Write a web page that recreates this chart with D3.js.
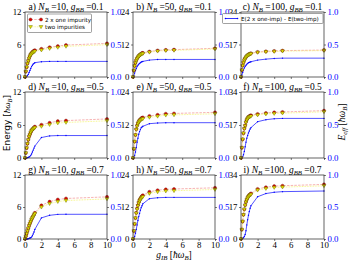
<!DOCTYPE html>
<html><head><meta charset="utf-8">
<script src="https://cdn.jsdelivr.net/npm/d3@7"></script>
<style>body{margin:0;background:#fff}svg{display:block}</style>
</head><body>
<svg id="c" width="352" height="264"></svg>
<script>
// ---------- data ----------
const gIB = [0,0.1,0.2,0.3,0.4,0.5,0.6,0.7,0.8,0.9,1.0,1.1,1.2,2,3,4,5,10];
const panelTags = ["a","b","c","d","e","f","g","h","i"];
const NB = [10,50,100];
const gBB = [0.1,0.5,0.7];
const leftTicks = [[0,6,12],[0,12,24],[0,17,34]];
const rightTicks = [0,0.5,1.0];
const xTicks = [0,2,4,6,8,10];
const legendLabels = ["2 x one impurity","two impurities","E(2 x one-imp) - E(two-imp)"];

// a) NB=10, gBB=0.1
const oneA = [0,1.0,1.8,2.5,3.0,3.5,3.9,4.2,4.4,4.6,4.75,4.85,4.95,5.2,5.5,5.7,5.9,6.2];
const twoA = [0,1.0,1.79,2.48,2.96,3.43,3.8,4.07,4.24,4.42,4.55,4.64,4.73,4.97,5.26,5.46,5.66,5.96];
const effA = [0,0,0.01,0.02,0.04,0.07,0.10,0.13,0.16,0.18,0.20,0.21,0.22,0.235,0.24,0.24,0.24,0.24];
// b) NB=50, gBB=0.1
const oneB = [0,2.4,4.1,5.3,6.2,6.9,7.4,7.8,8.1,8.4,8.6,8.8,8.9,9.4,9.8,10.0,10.1,10.6];
const twoB = [0,2.38,4.04,5.2,6.07,6.74,7.22,7.61,7.89,8.18,8.37,8.57,8.66,9.14,9.53,9.73,9.83,10.33];
const effB = [0,0.02,0.06,0.10,0.13,0.16,0.18,0.195,0.21,0.22,0.23,0.235,0.24,0.26,0.27,0.27,0.27,0.27];
// c) NB=100, gBB=0.1
const oneC = [0,3.6,6.0,7.7,8.9,9.8,10.5,11.0,11.4,11.7,12.0,12.2,12.4,13.1,13.4,13.6,13.8,14.1];
const twoC = [0,3.57,5.93,7.59,8.76,9.64,10.32,10.81,11.19,11.48,11.78,11.97,12.17,12.84,13.13,13.32,13.51,13.81];
const effC = [0,0.03,0.07,0.11,0.14,0.16,0.18,0.195,0.21,0.22,0.225,0.23,0.235,0.26,0.275,0.285,0.29,0.29];
// d) NB=10, gBB=0.5
const oneD = [0,0.9,1.8,2.6,3.3,3.9,4.3,4.7,5.0,5.2,5.4,5.55,5.7,6.05,6.4,6.7,6.8,7.1];
const twoD = [0,0.9,1.8,2.6,3.29,3.89,4.28,4.66,4.94,5.11,5.28,5.4,5.52,5.74,6.07,6.36,6.46,6.76];
const effD = [0,0,0,0.005,0.01,0.015,0.025,0.04,0.06,0.09,0.12,0.15,0.18,0.31,0.335,0.34,0.34,0.34];
// e) NB=50, gBB=0.5
const oneE = [0,3.3,6.0,8.4,10.5,11.8,12.7,13.3,13.8,14.1,14.4,14.6,14.75,15.3,15.7,16.1,16.2,16.6];
const twoE = [0,3.29,5.96,8.31,10.34,11.56,12.4,12.94,13.4,13.67,13.94,14.13,14.27,14.78,15.17,15.57,15.67,16.07];
const effE = [0,0.01,0.04,0.09,0.16,0.24,0.30,0.36,0.40,0.43,0.46,0.47,0.48,0.52,0.53,0.535,0.535,0.535];
// f) NB=100, gBB=0.5
const oneF = [0,5.3,9.6,12.8,15.2,16.8,18.6,19.8,20.6,21.2,21.5,21.8,22.0,22.7,23.2,23.5,23.7,24.4];
const twoF = [0,5.3,9.58,12.75,15.1,16.63,18.36,19.5,20.26,20.82,21.09,21.36,21.54,22.15,22.62,22.91,23.1,23.8];
const effF = [0,0.005,0.02,0.05,0.10,0.17,0.24,0.30,0.34,0.38,0.41,0.44,0.46,0.55,0.58,0.595,0.6,0.6];
// g) NB=10, gBB=0.7
const oneG = [0,0.5,1.0,1.5,2.0,2.5,2.9,3.3,3.7,4.0,4.3,4.6,4.9,6.3,7.0,7.4,7.6,7.9];
const twoG = [0,0.5,1.0,1.5,1.995,2.49,2.885,3.28,3.67,3.95,4.22,4.49,4.75,5.97,6.63,7.015,7.214,7.514];
const effG = [0,0,0,0,0.005,0.01,0.015,0.02,0.03,0.05,0.08,0.11,0.15,0.33,0.37,0.385,0.386,0.386];
// h) NB=50, gBB=0.7
const oneH = [0,3.0,5.6,7.9,9.8,11.4,12.7,13.8,14.6,15.2,15.7,16.1,16.4,17.7,18.3,18.6,18.75,19.2];
const twoH = [0,2.99,5.56,7.81,9.65,11.18,12.41,13.45,14.2,14.75,15.21,15.58,15.85,17.07,17.655,17.95,18.1,18.55];
const effH = [0,0.01,0.04,0.09,0.15,0.22,0.29,0.35,0.40,0.45,0.49,0.52,0.55,0.63,0.645,0.65,0.65,0.65];
// i) NB=100, gBB=0.7
const oneI = [0,5.0,9.3,12.9,15.8,18.0,19.7,21.0,22.0,22.8,23.4,23.8,24.2,26.6,27.5,28.1,28.3,29.0];
const twoI = [0,5.0,9.29,12.88,15.76,17.93,19.57,20.78,21.7,22.43,22.97,23.32,23.68,25.94,26.79,27.37,27.56,28.25];
const effI = [0,0,0.01,0.02,0.04,0.07,0.13,0.22,0.30,0.37,0.43,0.48,0.52,0.66,0.71,0.73,0.74,0.75];

const panelData = [
  [oneA,twoA,effA],[oneB,twoB,effB],[oneC,twoC,effC],
  [oneD,twoD,effD],[oneE,twoE,effE],[oneF,twoF,effF],
  [oneG,twoG,effG],[oneH,twoH,effH],[oneI,twoI,effI]
];

// ---------- layout / style ----------
const cols = [[25,107],[133,215],[241,324]];
const rows = [[12,77],[92,158],[175,239]];
const serif = "'Liberation Serif','DejaVu Serif',serif";
const sans = "'DejaVu Sans',sans-serif";
const RED = "#e00000", YEL = "#e6e600", BLUE = "#0000ff";
const triPath = "M-1.9,-1.3L1.9,-1.3L0,1.9Z";

const svg = d3.select("#c");

panelData.forEach((series, i) => {
  const r = Math.floor(i/3), c = i % 3;
  const [x0,x1] = cols[c], [y0,y1] = rows[r];
  const lt = leftTicks[c];
  const x = d3.scaleLinear().domain([0,10]).range([x0,x1]);
  const yL = d3.scaleLinear().domain([0,lt[2]]).range([y1,y0]);
  const yR = d3.scaleLinear().domain([0,1]).range([y1,y0]);
  const g = svg.append("g");
  const [one,two,eff] = series;

  // lines
  g.append("path").datum(gIB.map((v,k)=>[v,one[k]]))
    .attr("d", d3.line().x(d=>x(d[0])).y(d=>yL(d[1])))
    .attr("fill","none").attr("stroke","#f4a0a0").attr("stroke-width",0.8).attr("stroke-dasharray","2.5,1.2");
  g.append("path").datum(gIB.map((v,k)=>[v,two[k]]))
    .attr("d", d3.line().x(d=>x(d[0])).y(d=>yL(d[1])))
    .attr("fill","none").attr("stroke","#f2f260").attr("stroke-width",0.8).attr("stroke-dasharray","0.8,0.8");
  g.append("path").datum(gIB.map((v,k)=>[v,eff[k]]))
    .attr("d", d3.line().x(d=>x(d[0])).y(d=>yR(d[1])))
    .attr("fill","none").attr("stroke",BLUE).attr("stroke-opacity",0.85).attr("stroke-width",0.8);
  g.selectAll(".bd").data(gIB.map((v,k)=>[v,eff[k]])).enter().append("circle")
    .attr("cx",d=>x(d[0])).attr("cy",d=>yR(d[1])).attr("r",0.7).attr("fill",BLUE);

  // markers
  g.selectAll(".rd").data(gIB.map((v,k)=>[v,one[k]])).enter().append("circle")
    .attr("cx",d=>x(d[0])).attr("cy",d=>yL(d[1])).attr("r",1.55)
    .attr("fill",RED).attr("stroke","#6a1500").attr("stroke-width",0.4);
  g.selectAll(".yt").data(gIB.map((v,k)=>[v,two[k]])).enter().append("path")
    .attr("d",triPath).attr("transform",d=>`translate(${x(d[0])},${yL(d[1])})`)
    .attr("fill",YEL).attr("stroke","#5a5a00").attr("stroke-width",0.4);

  // frame
  g.append("rect").attr("x",x0).attr("y",y0).attr("width",x1-x0).attr("height",y1-y0)
    .attr("fill","none").attr("stroke","#222").attr("stroke-width",0.7);

  // axes
  const ax = d3.axisLeft(yL).tickValues(lt).tickSize(2).tickPadding(1.5).tickFormat(d3.format("d"));
  const ga = g.append("g").attr("transform",`translate(${x0},0)`).call(ax);
  const axr = d3.axisRight(yR).tickValues(rightTicks).tickSize(2).tickPadding(1.5).tickFormat(d3.format(".1f"));
  const gr = g.append("g").attr("transform",`translate(${x1},0)`).call(axr);
  gr.selectAll("text").attr("fill",BLUE);
  const axb = d3.axisBottom(x).tickValues(xTicks).tickSize(2).tickPadding(1).tickFormat(r===2 ? d3.format("d") : ()=>"");
  const gb = g.append("g").attr("transform",`translate(0,${y1})`).call(axb);
  [ga,gr,gb].forEach(a=>{
    a.select(".domain").remove();
    a.selectAll("line").attr("stroke","#222").attr("stroke-width",0.6);
    a.selectAll("text").attr("font-family",serif).attr("font-size",8.8);
  });

  // title
  const t = g.append("text").attr("x",(x0+x1)/2).attr("y",y0-1.8).attr("text-anchor","middle")
    .attr("font-family",serif).attr("font-size",9.5).attr("fill","#000");
  t.append("tspan").text(panelTags[i]+") ");
  t.append("tspan").attr("font-style","italic").text("N");
  t.append("tspan").attr("font-style","italic").attr("font-size",6.8).attr("dy",1.8).text("B");
  t.append("tspan").attr("dy",-1.8).text(" =" + NB[c] + ", ");
  t.append("tspan").attr("font-style","italic").text("g");
  t.append("tspan").attr("font-style","italic").attr("font-size",6.8).attr("dy",1.8).text("BB");
  t.append("tspan").attr("dy",-1.8).text(" =" + gBB[r]);
});

// ---------- legends ----------
const lg1 = svg.append("g");
lg1.append("rect").attr("x",27.5).attr("y",14).attr("width",64).attr("height",18.5)
  .attr("fill","#fff").attr("fill-opacity",0.85).attr("stroke","#444").attr("stroke-width",0.5).attr("rx",1);
lg1.append("line").attr("x1",30.5).attr("x2",41).attr("y1",19.5).attr("y2",19.5)
  .attr("stroke","#f4a0a0").attr("stroke-width",0.8).attr("stroke-dasharray","2.5,1.2");
[30.5,41].forEach(px=>lg1.append("circle").attr("cx",px).attr("cy",19.5).attr("r",1.55)
  .attr("fill",RED).attr("stroke","#6a1500").attr("stroke-width",0.4));
lg1.append("line").attr("x1",30.5).attr("x2",41).attr("y1",26.8).attr("y2",26.8)
  .attr("stroke","#f2f260").attr("stroke-width",0.8).attr("stroke-dasharray","0.8,0.8");
[30.5,41].forEach(px=>lg1.append("path").attr("d",triPath).attr("transform",`translate(${px},26.8)`)
  .attr("fill",YEL).attr("stroke","#5a5a00").attr("stroke-width",0.4));
lg1.append("text").attr("x",45).attr("y",21.5).attr("font-family",sans).attr("font-size",5.6).text(legendLabels[0]);
lg1.append("text").attr("x",45).attr("y",28.8).attr("font-family",sans).attr("font-size",5.6).text(legendLabels[1]);

const lg2 = svg.append("g");
lg2.append("rect").attr("x",222.5).attr("y",13.5).attr("width",100.5).attr("height",10)
  .attr("fill","#fff").attr("fill-opacity",0.85).attr("stroke","#444").attr("stroke-width",0.5).attr("rx",1);
lg2.append("line").attr("x1",225.5).attr("x2",237.5).attr("y1",18.5).attr("y2",18.5)
  .attr("stroke",BLUE).attr("stroke-width",0.8);
[225.5,237.5].forEach(px=>lg2.append("circle").attr("cx",px).attr("cy",18.5).attr("r",0.8).attr("fill",BLUE));
lg2.append("text").attr("x",241).attr("y",20.5).attr("font-family",sans).attr("font-size",5.6).text(legendLabels[2]);

// ---------- axis labels ----------
const yl = svg.append("text").attr("transform","translate(10,123) rotate(-90)").attr("text-anchor","middle")
  .attr("font-family",sans).attr("font-size",9);
yl.append("tspan").text("Energy [");
yl.append("tspan").attr("font-family",serif).attr("font-style","italic").text("ħω");
yl.append("tspan").attr("font-family",serif).attr("font-style","italic").attr("font-size",6.5).attr("dy",1.8).text("B");
yl.append("tspan").attr("dy",-1.8).text("]");

const yr = svg.append("text").attr("transform","translate(345,122) rotate(-90)").attr("text-anchor","middle")
  .attr("font-family",serif).attr("font-size",9.5);
yr.append("tspan").attr("font-style","italic").text("E");
yr.append("tspan").attr("font-style","italic").attr("font-size",6.8).attr("dy",1.8).text("eff");
yr.append("tspan").attr("dy",-1.8).text(" [");
yr.append("tspan").attr("font-style","italic").text("ħω");
yr.append("tspan").attr("font-style","italic").attr("font-size",6.8).attr("dy",1.8).text("B");
yr.append("tspan").attr("dy",-1.8).text("]");

const xl = svg.append("text").attr("x",174).attr("y",258).attr("text-anchor","middle")
  .attr("font-family",serif).attr("font-size",9.5);
xl.append("tspan").attr("font-style","italic").text("g");
xl.append("tspan").attr("font-style","italic").attr("font-size",6.8).attr("dy",1.6).text("IB");
xl.append("tspan").attr("dy",-1.6).text(" [");
xl.append("tspan").attr("font-style","italic").text("ħω");
xl.append("tspan").attr("font-style","italic").attr("font-size",6.8).attr("dy",1.6).text("B");
xl.append("tspan").attr("dy",-1.6).text("]");
</script>
</body></html>
